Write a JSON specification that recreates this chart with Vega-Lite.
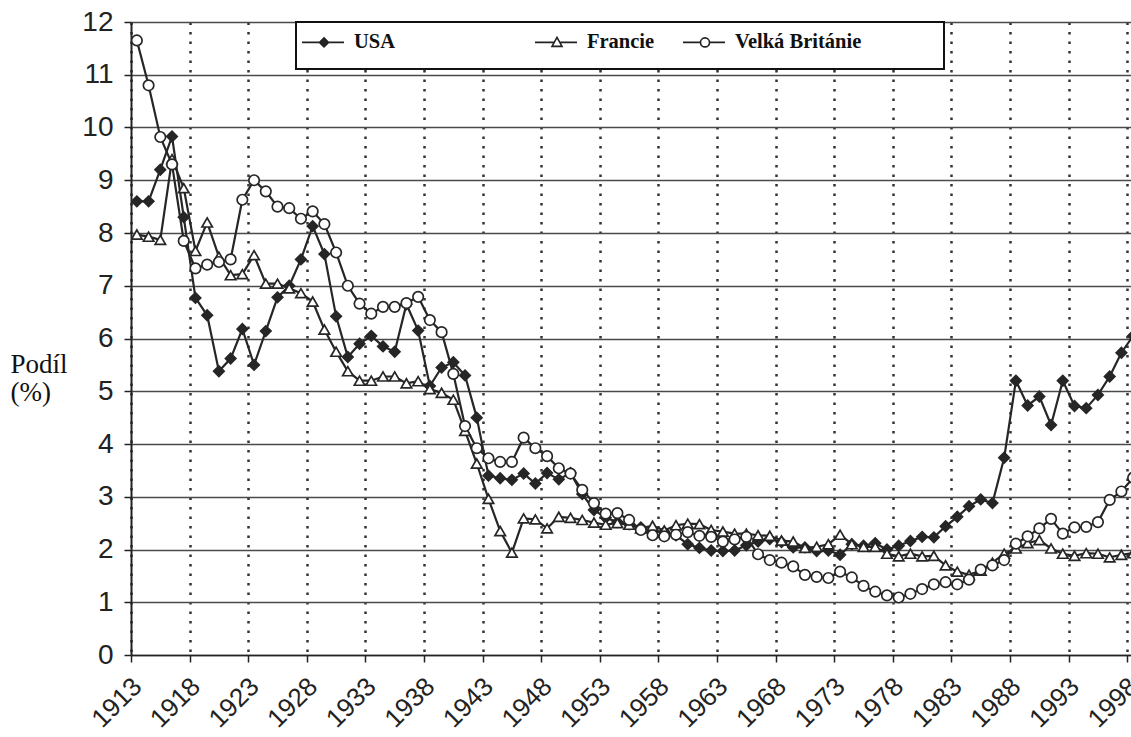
{
  "$schema": "https://vega.github.io/schema/vega-lite/v6.json",
  "width": 1000,
  "height": 633,
  "autosize": {"type": "none"},
  "padding": {"left": 131, "top": 22, "right": 0, "bottom": 82},
  "background": "white",
  "config": {"view": {"stroke": null}},
  "data": {"values": [
    {"country":"USA","year":1913,"share":8.6},{"country":"USA","year":1914,"share":8.6},{"country":"USA","year":1915,"share":9.2},{"country":"USA","year":1916,"share":9.83},{"country":"USA","year":1917,"share":8.3},{"country":"USA","year":1918,"share":6.77},{"country":"USA","year":1919,"share":6.44},{"country":"USA","year":1920,"share":5.38},{"country":"USA","year":1921,"share":5.62},{"country":"USA","year":1922,"share":6.18},
    {"country":"USA","year":1923,"share":5.5},{"country":"USA","year":1924,"share":6.14},{"country":"USA","year":1925,"share":6.78},{"country":"USA","year":1926,"share":7.0},{"country":"USA","year":1927,"share":7.5},{"country":"USA","year":1928,"share":8.13},{"country":"USA","year":1929,"share":7.6},{"country":"USA","year":1930,"share":6.42},{"country":"USA","year":1931,"share":5.65},{"country":"USA","year":1932,"share":5.9},
    {"country":"USA","year":1933,"share":6.05},{"country":"USA","year":1934,"share":5.85},{"country":"USA","year":1935,"share":5.75},{"country":"USA","year":1936,"share":6.65},{"country":"USA","year":1937,"share":6.15},{"country":"USA","year":1938,"share":5.1},{"country":"USA","year":1939,"share":5.45},{"country":"USA","year":1940,"share":5.55},{"country":"USA","year":1941,"share":5.3},{"country":"USA","year":1942,"share":4.5},
    {"country":"USA","year":1943,"share":3.4},{"country":"USA","year":1944,"share":3.35},{"country":"USA","year":1945,"share":3.32},{"country":"USA","year":1946,"share":3.44},{"country":"USA","year":1947,"share":3.25},{"country":"USA","year":1948,"share":3.45},{"country":"USA","year":1949,"share":3.33},{"country":"USA","year":1950,"share":3.45},{"country":"USA","year":1951,"share":3.05},{"country":"USA","year":1952,"share":2.75},
    {"country":"USA","year":1953,"share":2.6},{"country":"USA","year":1954,"share":2.52},{"country":"USA","year":1955,"share":2.48},{"country":"USA","year":1956,"share":2.42},{"country":"USA","year":1957,"share":2.35},{"country":"USA","year":1958,"share":2.33},{"country":"USA","year":1959,"share":2.27},{"country":"USA","year":1960,"share":2.1},{"country":"USA","year":1961,"share":2.03},{"country":"USA","year":1962,"share":1.98},
    {"country":"USA","year":1963,"share":1.97},{"country":"USA","year":1964,"share":1.98},{"country":"USA","year":1965,"share":2.08},{"country":"USA","year":1966,"share":2.15},{"country":"USA","year":1967,"share":2.2},{"country":"USA","year":1968,"share":2.14},{"country":"USA","year":1969,"share":2.04},{"country":"USA","year":1970,"share":2.04},{"country":"USA","year":1971,"share":1.97},{"country":"USA","year":1972,"share":1.98},
    {"country":"USA","year":1973,"share":1.9},{"country":"USA","year":1974,"share":2.1},{"country":"USA","year":1975,"share":2.07},{"country":"USA","year":1976,"share":2.12},{"country":"USA","year":1977,"share":2.0},{"country":"USA","year":1978,"share":2.07},{"country":"USA","year":1979,"share":2.16},{"country":"USA","year":1980,"share":2.24},{"country":"USA","year":1981,"share":2.23},{"country":"USA","year":1982,"share":2.44},
    {"country":"USA","year":1983,"share":2.62},{"country":"USA","year":1984,"share":2.82},{"country":"USA","year":1985,"share":2.95},{"country":"USA","year":1986,"share":2.88},{"country":"USA","year":1987,"share":3.74},{"country":"USA","year":1988,"share":5.2},{"country":"USA","year":1989,"share":4.73},{"country":"USA","year":1990,"share":4.9},{"country":"USA","year":1991,"share":4.36},{"country":"USA","year":1992,"share":5.2},
    {"country":"USA","year":1993,"share":4.72},{"country":"USA","year":1994,"share":4.68},{"country":"USA","year":1995,"share":4.93},{"country":"USA","year":1996,"share":5.28},{"country":"USA","year":1997,"share":5.73},{"country":"USA","year":1998,"share":6.05},

    {"country":"Francie","year":1913,"share":7.97},{"country":"Francie","year":1914,"share":7.93},{"country":"Francie","year":1915,"share":7.87},{"country":"Francie","year":1916,"share":9.4},{"country":"Francie","year":1917,"share":8.85},{"country":"Francie","year":1918,"share":7.66},{"country":"Francie","year":1919,"share":8.2},{"country":"Francie","year":1920,"share":7.55},{"country":"Francie","year":1921,"share":7.2},{"country":"Francie","year":1922,"share":7.22},
    {"country":"Francie","year":1923,"share":7.58},{"country":"Francie","year":1924,"share":7.04},{"country":"Francie","year":1925,"share":7.04},{"country":"Francie","year":1926,"share":6.95},{"country":"Francie","year":1927,"share":6.86},{"country":"Francie","year":1928,"share":6.7},{"country":"Francie","year":1929,"share":6.17},{"country":"Francie","year":1930,"share":5.75},{"country":"Francie","year":1931,"share":5.38},{"country":"Francie","year":1932,"share":5.2},
    {"country":"Francie","year":1933,"share":5.2},{"country":"Francie","year":1934,"share":5.28},{"country":"Francie","year":1935,"share":5.28},{"country":"Francie","year":1936,"share":5.15},{"country":"Francie","year":1937,"share":5.19},{"country":"Francie","year":1938,"share":5.04},{"country":"Francie","year":1939,"share":4.97},{"country":"Francie","year":1940,"share":4.84},{"country":"Francie","year":1941,"share":4.25},{"country":"Francie","year":1942,"share":3.63},
    {"country":"Francie","year":1943,"share":2.96},{"country":"Francie","year":1944,"share":2.35},{"country":"Francie","year":1945,"share":1.94},{"country":"Francie","year":1946,"share":2.59},{"country":"Francie","year":1947,"share":2.57},{"country":"Francie","year":1948,"share":2.4},{"country":"Francie","year":1949,"share":2.62},{"country":"Francie","year":1950,"share":2.6},{"country":"Francie","year":1951,"share":2.56},{"country":"Francie","year":1952,"share":2.51},
    {"country":"Francie","year":1953,"share":2.47},{"country":"Francie","year":1954,"share":2.5},{"country":"Francie","year":1955,"share":2.47},{"country":"Francie","year":1956,"share":2.4},{"country":"Francie","year":1957,"share":2.45},{"country":"Francie","year":1958,"share":2.36},{"country":"Francie","year":1959,"share":2.46},{"country":"Francie","year":1960,"share":2.49},{"country":"Francie","year":1961,"share":2.48},{"country":"Francie","year":1962,"share":2.37},
    {"country":"Francie","year":1963,"share":2.34},{"country":"Francie","year":1964,"share":2.3},{"country":"Francie","year":1965,"share":2.3},{"country":"Francie","year":1966,"share":2.27},{"country":"Francie","year":1967,"share":2.26},{"country":"Francie","year":1968,"share":2.17},{"country":"Francie","year":1969,"share":2.15},{"country":"Francie","year":1970,"share":2.03},{"country":"Francie","year":1971,"share":2.05},{"country":"Francie","year":1972,"share":2.1},
    {"country":"Francie","year":1973,"share":2.28},{"country":"Francie","year":1974,"share":2.1},{"country":"Francie","year":1975,"share":2.05},{"country":"Francie","year":1976,"share":2.05},{"country":"Francie","year":1977,"share":1.92},{"country":"Francie","year":1978,"share":1.87},{"country":"Francie","year":1979,"share":1.92},{"country":"Francie","year":1980,"share":1.87},{"country":"Francie","year":1981,"share":1.88},{"country":"Francie","year":1982,"share":1.7},
    {"country":"Francie","year":1983,"share":1.58},{"country":"Francie","year":1984,"share":1.52},{"country":"Francie","year":1985,"share":1.6},{"country":"Francie","year":1986,"share":1.75},{"country":"Francie","year":1987,"share":1.92},{"country":"Francie","year":1988,"share":2.02},{"country":"Francie","year":1989,"share":2.12},{"country":"Francie","year":1990,"share":2.18},{"country":"Francie","year":1991,"share":2.02},{"country":"Francie","year":1992,"share":1.92},
    {"country":"Francie","year":1993,"share":1.88},{"country":"Francie","year":1994,"share":1.93},{"country":"Francie","year":1995,"share":1.92},{"country":"Francie","year":1996,"share":1.85},{"country":"Francie","year":1997,"share":1.9},{"country":"Francie","year":1998,"share":1.93},

    {"country":"Velká Británie","year":1913,"share":11.65},{"country":"Velká Británie","year":1914,"share":10.8},{"country":"Velká Británie","year":1915,"share":9.82},{"country":"Velká Británie","year":1916,"share":9.3},{"country":"Velká Británie","year":1917,"share":7.85},{"country":"Velká Británie","year":1918,"share":7.33},{"country":"Velká Británie","year":1919,"share":7.4},{"country":"Velká Británie","year":1920,"share":7.45},{"country":"Velká Británie","year":1921,"share":7.5},{"country":"Velká Británie","year":1922,"share":8.63},
    {"country":"Velká Británie","year":1923,"share":9.0},{"country":"Velká Británie","year":1924,"share":8.79},{"country":"Velká Británie","year":1925,"share":8.5},{"country":"Velká Británie","year":1926,"share":8.47},{"country":"Velká Británie","year":1927,"share":8.27},{"country":"Velká Británie","year":1928,"share":8.41},{"country":"Velká Británie","year":1929,"share":8.17},{"country":"Velká Británie","year":1930,"share":7.63},{"country":"Velká Británie","year":1931,"share":7.0},{"country":"Velká Británie","year":1932,"share":6.66},
    {"country":"Velká Británie","year":1933,"share":6.47},{"country":"Velká Británie","year":1934,"share":6.6},{"country":"Velká Británie","year":1935,"share":6.6},{"country":"Velká Británie","year":1936,"share":6.67},{"country":"Velká Británie","year":1937,"share":6.79},{"country":"Velká Británie","year":1938,"share":6.35},{"country":"Velká Británie","year":1939,"share":6.12},{"country":"Velká Británie","year":1940,"share":5.33},{"country":"Velká Británie","year":1941,"share":4.34},{"country":"Velká Británie","year":1942,"share":3.92},
    {"country":"Velká Británie","year":1943,"share":3.73},{"country":"Velká Británie","year":1944,"share":3.66},{"country":"Velká Británie","year":1945,"share":3.66},{"country":"Velká Británie","year":1946,"share":4.12},{"country":"Velká Británie","year":1947,"share":3.92},{"country":"Velká Británie","year":1948,"share":3.77},{"country":"Velká Británie","year":1949,"share":3.54},{"country":"Velká Británie","year":1950,"share":3.44},{"country":"Velká Británie","year":1951,"share":3.13},{"country":"Velká Británie","year":1952,"share":2.88},
    {"country":"Velká Británie","year":1953,"share":2.68},{"country":"Velká Británie","year":1954,"share":2.69},{"country":"Velká Británie","year":1955,"share":2.56},{"country":"Velká Británie","year":1956,"share":2.37},{"country":"Velká Británie","year":1957,"share":2.27},{"country":"Velká Británie","year":1958,"share":2.25},{"country":"Velká Británie","year":1959,"share":2.28},{"country":"Velká Británie","year":1960,"share":2.33},{"country":"Velká Británie","year":1961,"share":2.26},{"country":"Velká Británie","year":1962,"share":2.24},
    {"country":"Velká Británie","year":1963,"share":2.15},{"country":"Velká Británie","year":1964,"share":2.19},{"country":"Velká Británie","year":1965,"share":2.24},{"country":"Velká Británie","year":1966,"share":1.91},{"country":"Velká Británie","year":1967,"share":1.8},{"country":"Velká Británie","year":1968,"share":1.75},{"country":"Velká Británie","year":1969,"share":1.68},{"country":"Velká Británie","year":1970,"share":1.52},{"country":"Velká Británie","year":1971,"share":1.48},{"country":"Velká Británie","year":1972,"share":1.46},
    {"country":"Velká Británie","year":1973,"share":1.58},{"country":"Velká Británie","year":1974,"share":1.47},{"country":"Velká Británie","year":1975,"share":1.31},{"country":"Velká Británie","year":1976,"share":1.2},{"country":"Velká Británie","year":1977,"share":1.13},{"country":"Velká Británie","year":1978,"share":1.09},{"country":"Velká Británie","year":1979,"share":1.16},{"country":"Velká Británie","year":1980,"share":1.25},{"country":"Velká Británie","year":1981,"share":1.34},{"country":"Velká Británie","year":1982,"share":1.38},
    {"country":"Velká Británie","year":1983,"share":1.34},{"country":"Velká Británie","year":1984,"share":1.43},{"country":"Velká Británie","year":1985,"share":1.62},{"country":"Velká Británie","year":1986,"share":1.7},{"country":"Velká Británie","year":1987,"share":1.8},{"country":"Velká Británie","year":1988,"share":2.11},{"country":"Velká Británie","year":1989,"share":2.25},{"country":"Velká Británie","year":1990,"share":2.4},{"country":"Velká Británie","year":1991,"share":2.58},{"country":"Velká Británie","year":1992,"share":2.3},
    {"country":"Velká Británie","year":1993,"share":2.42},{"country":"Velká Británie","year":1994,"share":2.43},{"country":"Velká Británie","year":1995,"share":2.52},{"country":"Velká Británie","year":1996,"share":2.94},{"country":"Velká Británie","year":1997,"share":3.1},{"country":"Velká Británie","year":1998,"share":3.36}
  ]},
  "encoding": {
    "x": {
      "field": "year", "type": "quantitative",
      "scale": {"domain": [1912.5, 1997.82], "nice": false, "zero": false},
      "axis": {
        "title": null,
        "values": [1912.5, 1917.5, 1922.5, 1927.5, 1932.5, 1937.5, 1942.5, 1947.5, 1952.5, 1957.5, 1962.5, 1967.5, 1972.5, 1977.5, 1982.5, 1987.5, 1992.5, 1997.5],
        "labelExpr": "format(datum.value + 0.5, 'd')",
        "labelAngle": -45, "labelAlign": "right", "labelBaseline": "middle",
        "labelFont": "Liberation Sans", "labelFontSize": 26, "labelColor": "#222",
        "labelPadding": 20, "labelOffset": 6,
        "labelOverlap": false, "labelBound": false, "labelFlush": false,
        "tickSize": 7, "tickColor": "#222", "tickWidth": 1.5,
        "domainColor": "#222", "domainWidth": 1.5,
        "grid": true, "gridColor": "#333", "gridDash": [2.5, 7], "gridWidth": 2.5, "gridOpacity": 1
      }
    },
    "y": {
      "field": "share", "type": "quantitative",
      "scale": {"domain": [0, 12], "nice": false},
      "axis": {
        "values": [0,1,2,3,4,5,6,7,8,9,10,11,12],
        "title": ["Podíl", "(%)"],
        "titleAngle": 0, "titleAlign": "left", "titleBaseline": "alphabetic",
        "titleX": -121, "titleY": 350,
        "titleFont": "Liberation Serif", "titleFontSize": 27, "titleFontWeight": "normal", "titleColor": "#111", "titleLineHeight": 28,
        "labelFont": "Liberation Sans", "labelFontSize": 28, "labelColor": "#222", "labelPadding": 11,
        "tickSize": 7, "tickColor": "#222", "tickWidth": 1.5,
        "domainColor": "#222", "domainWidth": 2,
        "grid": true, "gridColor": "#4a4a4a", "gridWidth": 1.3, "gridOpacity": 1
      }
    }
  },
  "layer": [
    {
      "mark": {"type": "line", "stroke": "#262626", "strokeWidth": 2.2, "clip": true},
      "encoding": {"detail": {"field": "country"}}
    },
    {
      "mark": {"type": "point", "stroke": "#262626", "strokeWidth": 1.7, "size": 110, "opacity": 1, "fillOpacity": 1, "clip": true},
      "encoding": {
        "shape": {"field": "country", "type": "nominal", "scale": {"domain": ["USA", "Francie", "Velká Británie"], "range": ["diamond", "triangle-up", "circle"]}, "legend": null},
        "fill": {"field": "country", "type": "nominal", "scale": {"domain": ["USA", "Francie", "Velká Británie"], "range": ["#262626", "#ffffff", "#ffffff"]}, "legend": null}
      }
    },
    {
      "mark": {"type": "point", "opacity": 0, "stroke": "#262626", "clip": true},
      "encoding": {
        "shape": {
          "field": "country", "type": "nominal",
          "scale": {"domain": ["USA", "Francie", "Velká Británie"], "range": [
            "M-2.2,0H2M0,-0.45L0.45,0L0,0.45L-0.45,0ZM19.3,0M0,-1.4M0,1.4",
            "M-2.2,0H-0.28M0.28,0H2M0,-0.5L0.5,0.4L-0.5,0.4ZM10.8,0M0,-1.4M0,1.4",
            "M-2.2,0H-0.45M0.45,0H2M0.45,0A0.45,0.45,0,1,1,-0.45,0A0.45,0.45,0,1,1,0.45,0ZM22.6,0M0,-1.4M0,1.4"
          ]},
          "legend": {
            "orient": "none", "legendX": 165, "legendY": 0, "direction": "horizontal", "title": null,
            "symbolSize": 400, "symbolStrokeWidth": 1.6, "symbolStrokeColor": "#222", "symbolOpacity": 1, "symbolOffset": 8,
            "labelFont": "Liberation Serif", "labelFontSize": 20.5, "labelFontWeight": "bold", "labelColor": "#111",
            "labelOffset": 19, "columnPadding": 10, "padding": 9, "gridAlign": "each",
            "fillColor": "white", "strokeColor": "#111",
            "encode": {"legend": {"update": {"strokeWidth": {"value": 2}}}}
          }
        },
        "fill": {
          "field": "country", "type": "nominal",
          "scale": {"domain": ["USA", "Francie", "Velká Británie"], "range": ["#262626", "#ffffff", "#ffffff"]},
          "legend": {
            "orient": "none", "legendX": 165, "legendY": 0, "direction": "horizontal", "title": null,
            "symbolSize": 400, "symbolStrokeWidth": 1.6, "symbolStrokeColor": "#222", "symbolOpacity": 1, "symbolOffset": 8,
            "labelFont": "Liberation Serif", "labelFontSize": 20.5, "labelFontWeight": "bold", "labelColor": "#111",
            "labelOffset": 19, "columnPadding": 10, "padding": 9, "gridAlign": "each",
            "fillColor": "white", "strokeColor": "#111",
            "encode": {"legend": {"update": {"strokeWidth": {"value": 2}}}}
          }
        }
      }
    }
  ],
  "resolve": {
    "scale": {"shape": "independent", "fill": "independent"},
    "legend": {"shape": "independent", "fill": "independent"}
  }
}
